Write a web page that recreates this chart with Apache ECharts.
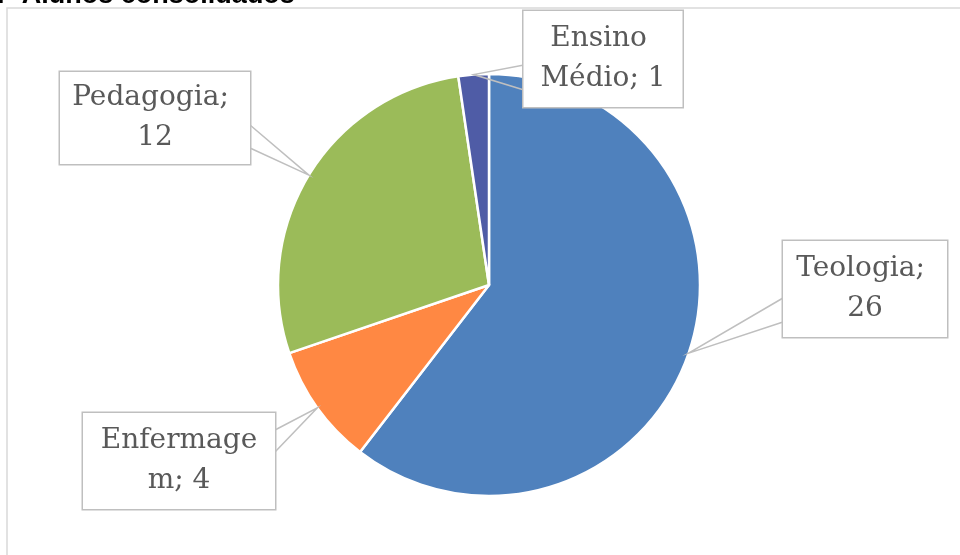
<!DOCTYPE html>
<html>
<head>
<meta charset="utf-8">
<style>
  html, body { margin: 0; padding: 0; background: #ffffff; }
  #chart { width: 960px; height: 555px; }
</style>
<script src="https://cdn.jsdelivr.net/npm/echarts@6/dist/echarts.min.js"></script>
</head>
<body>
<div id="chart"></div>
<script>
// ---- data ----
const titleText = 'Nº Alunos consolidados';
const categories = ['Teologia', 'Enfermagem', 'Pedagogia', 'Ensino Médio'];
const values = [26, 4, 12, 1];
const colors = ['#4F81BD', '#FF8843', '#9BBB59', '#4F5CA6'];

// ---- callout box layout (label placement, not data) ----
const callouts = [
  { cx: 865, top: 241, width: 148, pad: [8, 8], side: 783, b0: 298, b1: 322 },
  { cx: 179, top: 413, width: 176, pad: [8, 8], side: 275, b0: 430, b1: 452 },
  { cx: 155, top: 72, width: 180, pad: [6, 5], side: 250, b0: 125, b1: 148 },
  { cx: 603, top: 11, width: 143, pad: [8, 8], side: 524, b0: 65, b1: 90 }
];

const chart = echarts.init(document.getElementById('chart'), null, { renderer: 'canvas' });

const pieData = categories.map((name, i) => ({
  name: name,
  value: values[i],
  itemStyle: { color: colors[i] }
}));

const labelData = categories.map((name, i) => ({
  name: name,
  value: values[i],
  label: { width: callouts[i].width, padding: callouts[i].pad }
}));

const common = {
  type: 'pie',
  center: [489, 285],
  radius: 211,
  startAngle: 90,
  clockwise: true,
  avoidLabelOverlap: false
};

chart.setOption({
  animation: false,
  backgroundColor: '#ffffff',
  title: {
    text: titleText,
    left: -15,
    top: -18,
    padding: 0,
    textStyle: { fontFamily: 'Liberation Sans, Arial, sans-serif', fontWeight: 'bold', fontSize: 27, color: '#000000' }
  },
  graphic: [{
    type: 'rect',
    shape: { x: 7, y: 8, width: 1000, height: 600 },
    style: { fill: 'none', stroke: '#d9d9d9', lineWidth: 1.5 },
    silent: true,
    z: -1
  }],
  series: [
    Object.assign({}, common, {
      z: 2,
      silent: true,
      itemStyle: { borderColor: '#ffffff', borderWidth: 2.5 },
      label: { show: false },
      labelLine: { show: false },
      data: pieData
    }),
    Object.assign({}, common, {
      z: 5,
      silent: true,
      itemStyle: { color: 'rgba(0,0,0,0)', borderWidth: 0 },
      label: {
        show: true,
        position: 'outside',
        formatter: '{b}; {c}',
        fontFamily: 'DejaVu Serif, serif',
        fontSize: 28,
        lineHeight: 40,
        color: '#595959',
        align: 'center',
        overflow: 'break',
        backgroundColor: '#ffffff',
        borderColor: '#bfbfbf',
        borderWidth: 1.5
      },
      labelLine: {
        show: true,
        lineStyle: { color: '#bfbfbf', width: 1.5 }
      },
      labelLayout: function (params) {
        const c = callouts[params.dataIndex];
        const tip = params.labelLinePoints ? params.labelLinePoints[0] : null;
        const out = { x: c.cx, y: c.top, align: 'center', verticalAlign: 'top' };
        if (tip) {
          out.labelLinePoints = [[c.side, c.b0], [tip[0], tip[1]], [c.side, c.b1]];
        }
        return out;
      },
      data: labelData
    })
  ]
});
</script>
</body>
</html>
